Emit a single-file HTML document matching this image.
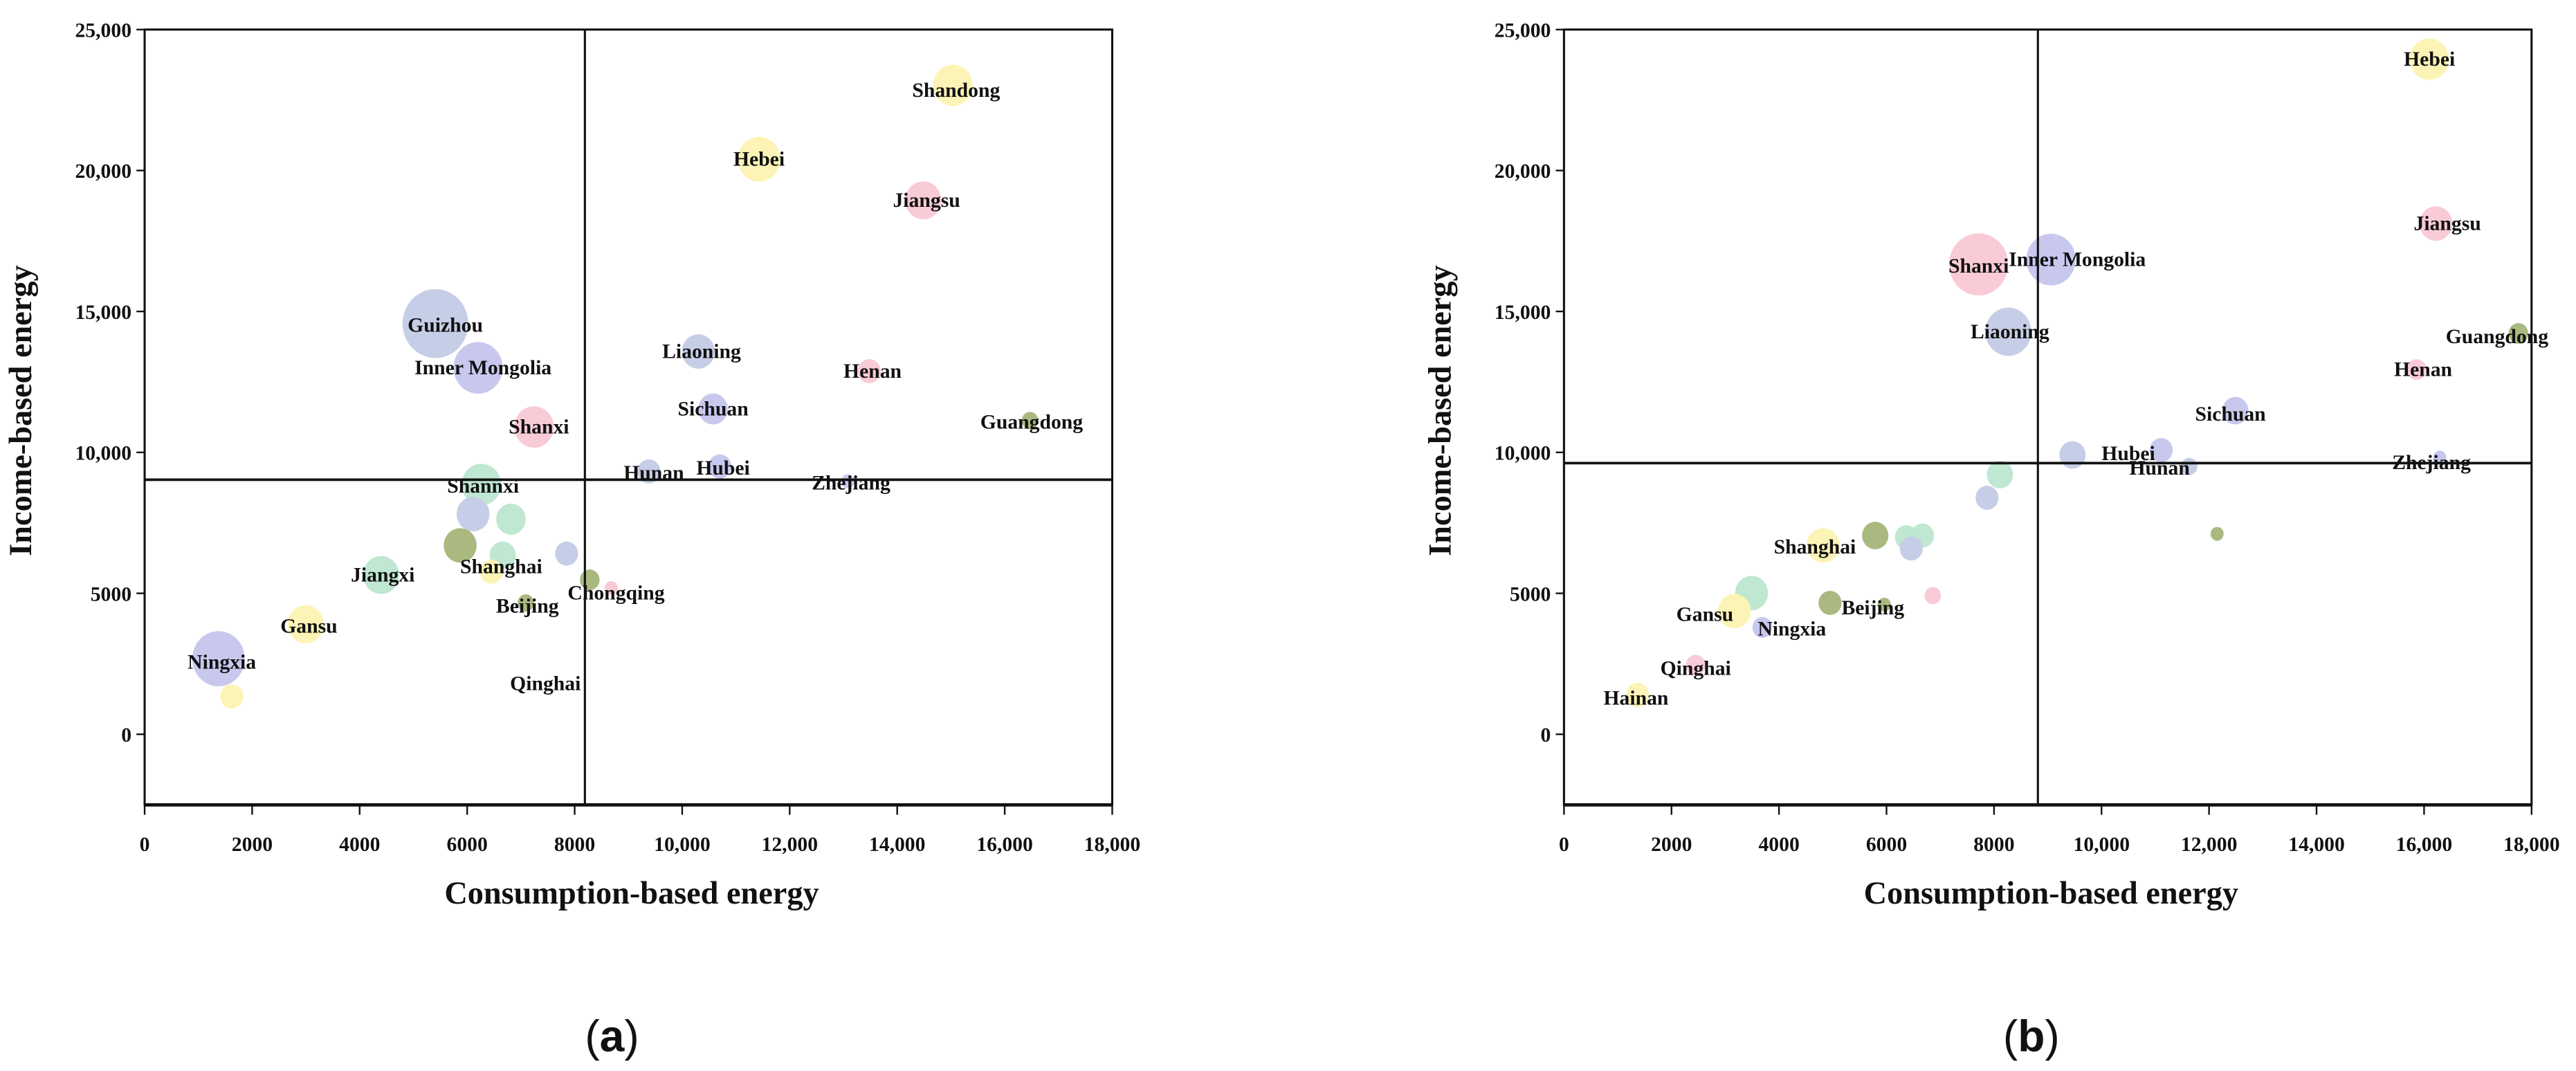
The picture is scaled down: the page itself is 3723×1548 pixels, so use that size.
<!DOCTYPE html>
<html><head><meta charset="utf-8"><style>
html,body{margin:0;padding:0;background:#fff;}
svg{display:block;}
text{font-family:"Liberation Serif",serif;font-weight:bold;fill:#111;}
</style></head><body>
<svg id="fig" width="3723" height="1548" viewBox="0 0 1568 652" xmlns="http://www.w3.org/2000/svg">
<g id="panelA"></g>
<g id="panelB"></g>
</svg>
<script>
// ---- Panel (a) data ----
const aNames = ["Shandong","Hebei","Jiangsu","Guizhou","Inner Mongolia","Liaoning","Henan","Sichuan","Shanxi","Guangdong","Hunan","Hubei","Zhejiang","Shannxi","","","","","","Shanghai","Jiangxi","","Chongqing","Beijing","Gansu","Ningxia","","Qinghai"];
const aX = [15035,11430,14485,5410,6204,10300,13480,10575,7243,16470,9380,10700,13080,6265,6110,6815,5870,6660,7850,6450,4400,8280,8680,7090,2995,1375,1620,7456];
const aY = [23020,20400,18940,14570,13000,13580,12880,11540,10900,11130,9325,9500,8975,8860,7810,7630,6700,6350,6410,5770,5650,5480,5190,4660,3900,2680,1340,1800];
const aSize = [12,13,11,20,15,10,7,9,12,5,7,7,4,12,10,9,10,8,7,7,11,6,4,5,11,16,7,0];
const aColor = ["y","y","p","b","l","b","p","l","p","o","b","l","l","m","b","m","o","m","b","y","m","o","p","o","y","l","y","p"];
const aRefX = 8190, aRefY = 9030;
// ---- Panel (b) data ----
const bNames = ["Hebei","Jiangsu","Shanxi","Inner Mongolia","Liaoning","Guangdong","Henan","Sichuan","","Hubei","Hunan","Zhejiang","","","","","","","","Shanghai","","Gansu","","Beijing","","Ningxia","Qinghai","Hainan"];
const bX = [16100,16220,7714,9060,8265,17755,15860,12490,9460,11110,11630,16290,12150,8110,7870,5790,6370,6670,6460,4820,3490,3170,4950,5960,6860,3690,2450,1370];
const bY = [23950,18120,16670,16840,14280,14220,12940,11480,9910,10080,9500,9820,7110,9210,8390,7050,6990,7050,6590,6700,5010,4370,4660,4600,4920,3790,2450,1400];
const bSize = [12,10,18,15,14,6,6,8,8,7,5,4,4,8,7,8,7,7,7,10,10,10,7,4,5,6,6,7];
const bColor = ["y","p","p","l","b","o","p","l","b","l","b","l","o","m","b","o","m","m","b","y","m","y","o","o","p","l","p","y"];
const bRefX = 8816, bRefY = 9620;
// ---- axes ----
const xTicks = [0,2000,4000,6000,8000,10000,12000,14000,16000,18000];
const xTickLabels = ["0","2000","4000","6000","8000","10,000","12,000","14,000","16,000","18,000"];
const yTicks = [0,5000,10000,15000,20000,25000];
const yTickLabels = ["0","5000","10,000","15,000","20,000","25,000"];

const palette = {y:"#fcf4b6",p:"#f9cbd6",l:"#c8c8ef",b:"#c6cee7",m:"#bfe7d1",o:"#a9b980"};
const labelOffA = {"Shandong":[2,3],"Jiangsu":[2,0],"Guizhou":[6,1],"Inner Mongolia":[3,0],"Liaoning":[2,0],"Henan":[2,0],"Shanxi":[3,0],"Guangdong":[1,1],"Hunan":[3,1],"Hubei":[2,1],"Zhejiang":[2,1],"Shannxi":[1,1],"Shanghai":[6,-3],"Jiangxi":[1,0],"Chongqing":[3,3],"Beijing":[1,2],"Gansu":[2,1],"Ningxia":[2,2],"Qinghai":[0,0]};
const labelOffB = {"Hebei":[0,0],"Jiangsu":[7,0],"Shanxi":[0,1],"Inner Mongolia":[16,0],"Liaoning":[1,0],"Guangdong":[-13,2],"Henan":[4,0],"Sichuan":[-3,2],"Hubei":[-20,2],"Hunan":[-18,1],"Zhejiang":[-5,3],"Shanghai":[-5,1],"Beijing":[-7,2],"Gansu":[-18,2],"Ningxia":[18,1],"Qinghai":[0,2],"Hainan":[-1,2]};

const NS="http://www.w3.org/2000/svg";
function mk(tag, attrs, parent){const e=document.createElementNS(NS,tag);for(const k in attrs)e.setAttribute(k,attrs[k]);parent.appendChild(e);return e;}

function drawPanel(g, left, names, xs, ys, sizes, colors, refX, refY, offs, letter){
  const right=left+589, top=18, bottom=490;
  const sx=v=>left+(v/18000)*(right-left);
  const sy=v=>447-(v/5000)*85.8;
  for(let i=0;i<xs.length;i++){
    if(sizes[i]<=0) continue;
    const c=mk("ellipse",{cx:sx(xs[i]),cy:sy(ys[i]),rx:sizes[i],ry:sizes[i]*1.05,fill:palette[colors[i]]},g);
    
    
  }
  const v=mk("line",{x1:sx(refX),x2:sx(refX),y1:top,y2:bottom,stroke:"#111","stroke-width":1.3},g);
  
  
  const h=mk("line",{x1:left,x2:right,y1:sy(refY),y2:sy(refY),stroke:"#111","stroke-width":1.6},g);
  
  
  for(let i=0;i<xs.length;i++){
    if(!names[i]) continue;
    const o=offs[names[i]]||[0,0];
    const t=mk("text",{x:sx(xs[i])+o[0],y:sy(ys[i])+o[1]+4,"text-anchor":"middle","font-size":"12.5"},g);
    t.textContent=names[i];
    
    
  }
  const f=mk("rect",{x:left,y:top,width:right-left,height:bottom-top,fill:"none",stroke:"#111","stroke-width":1.3},g);
  
  
  mk("line",{x1:left,x2:right,y1:bottom,y2:bottom,stroke:"#111","stroke-width":2},g);
  for(let i=0;i<xTicks.length;i++){
    const x=sx(xTicks[i]);
    mk("line",{x1:x,x2:x,y1:bottom,y2:bottom+6,stroke:"#111","stroke-width":1},g);
    const t=mk("text",{x:x,y:518,"text-anchor":"middle","font-size":"12.5"},g);
    t.textContent=xTickLabels[i];
    
    
  }
  for(let i=0;i<yTicks.length;i++){
    const y=sy(yTicks[i]);
    mk("line",{x1:left-5,x2:left,y1:y,y2:y,stroke:"#111","stroke-width":1},g);
    const t=mk("text",{x:left-8,y:y+4.5,"text-anchor":"end","font-size":"12.5"},g);
    t.textContent=yTickLabels[i];
    
    
  }
  const xt=mk("text",{x:(left+right)/2+2,y:550,"text-anchor":"middle","font-size":"19.5"},g);
  xt.textContent="Consumption-based energy";
  
  
  const yx=left-69, yy=250;
  const yt=mk("text",{x:yx,y:yy,"text-anchor":"middle","font-size":"19.5",transform:"rotate(-90 "+yx+" "+yy+")"},g);
  yt.textContent="Income-based energy";
  
  
  const cap=mk("text",{x:(left+right)/2-10,y:640,"text-anchor":"middle","font-size":"27",style:"font-family:'Liberation Sans',sans-serif;font-weight:normal"},g);
  cap.innerHTML='(<tspan font-weight="bold">'+letter+'</tspan>)';
  
  
}
drawPanel(document.getElementById('panelA'),88,aNames,aX,aY,aSize,aColor,aRefX,aRefY,labelOffA,'a');
drawPanel(document.getElementById('panelB'),952,bNames,bX,bY,bSize,bColor,bRefX,bRefY,labelOffB,'b');
</script>
</body></html>
